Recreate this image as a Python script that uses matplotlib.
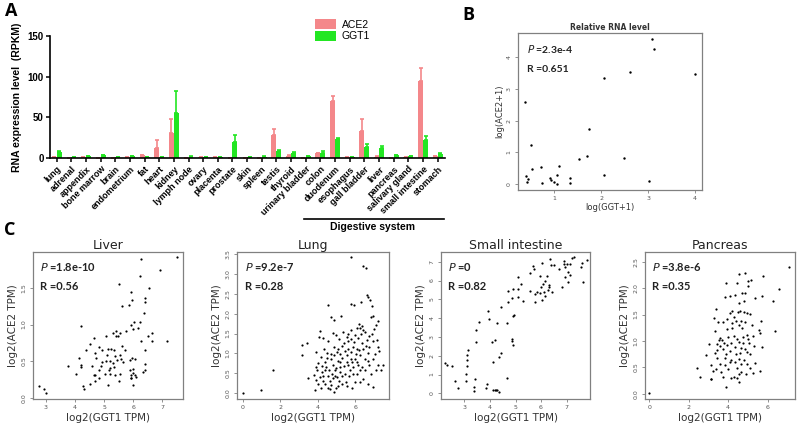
import numpy as np
import matplotlib
matplotlib.use('Agg')
import matplotlib.pyplot as plt
import matplotlib.transforms as mtrans

# ---- panel A data (RPKM) ----
tissues = ['lung', 'adrenal', 'appendix', 'bone marrow', 'brain', 'endometrium', 'fat',
           'heart', 'kidney', 'lymph node', 'ovary', 'placenta', 'prostate', 'skin',
           'spleen', 'testis', 'thyroid', 'urinary bladder', 'colon', 'duodenum',
           'esophagus', 'gall bladder', 'liver', 'pancreas', 'salivary gland',
           'small intestine', 'stomach']
ace2 = [1.2, 0.8, 1.5, 0.3, 0.3, 1.0, 4.0, 13, 31, 0.5, 1.2, 1.2, 0.5, 0.8, 0.5, 28, 3.0,
        0.8, 6.0, 70, 1.2, 34, 2.0, 0.8, 1.0, 94, 2.5]
ace2_err = [0, 0, 0, 0, 0, 0, 0.5, 10, 17, 0, 0, 0, 0, 0, 0, 8, 0.5, 0, 1, 6, 0, 14, 0.5,
            0, 0, 16, 0.5]
ggt1 = [8, 1, 2.5, 3.5, 1.5, 2.5, 1, 1, 55, 2, 1, 1.5, 20, 1, 2, 9, 6.5, 2.5, 7, 24, 1,
        14, 12, 4, 2.5, 22, 5]
ggt1_err = [1, 0, 0.5, 0.5, 0.3, 0.5, 0, 0, 27, 0.3, 0, 0, 8, 0, 0.3, 1.5, 1, 0.5, 1.5, 1,
            0, 4, 2.5, 0.5, 0.5, 5, 1]

# ---- panel B data ----
b_x = [3.09, 3.13, 2.61, 4.01, 2.07, 0.37, 1.73, 0.50, 1.53, 1.70, 2.48, 0.53, 0.72, 1.09,
       0.40, 0.43, 0.41, 0.73, 0.90, 0.92, 0.99, 1.06, 1.06, 1.33, 1.33, 2.07, 3.02]
b_y = [4.58, 4.27, 3.54, 3.48, 3.35, 2.60, 1.75, 1.22, 0.79, 0.87, 0.83, 0.46, 0.53, 0.56,
       0.26, 0.16, 0.07, 0.02, 0.18, 0.14, 0.06, 0.28, 0.00, 0.18, 0.04, 0.29, 0.09]

# ---- panel C data: liver ----
liver_x = [6.26, 6.93, 6.25, 5.51, 6.54, 5.93, 6.39, 5.97, 6.41, 5.63, 5.84, 6.36, 4.21, 5.91,
           6.03, 6.24, 6.00, 5.76, 6.18, 5.30, 5.40, 5.47, 5.41, 5.05, 5.55, 6.64, 6.51, 6.27,
           6.66, 7.17, 4.66, 4.52, 4.82, 4.38, 4.94, 5.14, 5.23, 5.34, 5.63, 5.73, 6.40, 4.69,
           5.53, 5.36, 5.11, 4.71, 4.13, 5.59, 5.46, 5.90, 6.05, 5.97, 5.06, 5.20, 4.93, 5.65,
           5.31, 6.41, 4.21, 4.20, 3.77, 4.59, 4.88, 5.21, 5.34, 4.82, 5.16, 5.88, 5.99, 6.39,
           6.00, 4.05, 4.64, 4.69, 5.04, 5.20, 5.36, 5.53, 5.92, 6.07, 6.11, 6.35, 4.83, 5.91,
           5.94, 4.69, 5.50, 4.52, 5.13, 6.01, 4.26, 4.31, 2.75, 2.94, 2.99, 7.52]
liver_y = [1.89, 1.74, 1.66, 1.55, 1.49, 1.44, 1.36, 1.33, 1.30, 1.25, 1.26, 1.15, 0.98, 1.00,
           1.03, 1.03, 0.94, 0.91, 0.95, 0.88, 0.91, 0.85, 0.84, 0.85, 0.89, 0.88, 0.84, 0.78,
           0.77, 0.78, 0.82, 0.73, 0.70, 0.66, 0.66, 0.67, 0.67, 0.66, 0.71, 0.65, 0.66, 0.61,
           0.59, 0.58, 0.59, 0.55, 0.55, 0.53, 0.52, 0.52, 0.53, 0.54, 0.51, 0.50, 0.49, 0.49,
           0.48, 0.47, 0.45, 0.43, 0.44, 0.44, 0.44, 0.41, 0.42, 0.39, 0.38, 0.39, 0.40, 0.39,
           0.34, 0.33, 0.32, 0.32, 0.33, 0.33, 0.32, 0.33, 0.32, 0.32, 0.29, 0.36, 0.27, 0.27,
           0.28, 0.23, 0.24, 0.19, 0.18, 0.18, 0.17, 0.12, 0.16, 0.13, 0.07, 1.91]

# ---- lung ----
lung_x = [0.00, 1.00, 1.63, 5.80, 6.43, 6.55, 4.54, 5.77, 5.93, 6.32, 6.61, 6.70, 6.79, 6.88,
          4.70, 4.86, 5.25, 3.14, 3.43, 3.14, 4.14, 4.07, 4.30, 4.57, 4.79, 4.96, 5.34, 5.63,
          5.80, 6.07, 6.18, 6.25, 6.38, 6.43, 6.86, 6.95, 7.21, 7.11, 7.00, 6.89, 6.75, 6.61,
          6.96, 7.14, 7.20, 7.27, 7.50, 7.20, 7.36, 7.11, 6.96, 6.84, 6.66, 6.43, 6.27, 6.14,
          5.98, 5.80, 5.63, 5.45, 5.30, 5.09, 4.89, 4.73, 4.48, 4.39, 4.25, 4.00, 3.89, 3.82,
          3.93, 3.88, 3.50, 4.21, 4.29, 4.41, 4.54, 4.73, 4.89, 5.00, 5.13, 5.32, 5.50, 5.68,
          5.82, 5.98, 6.09, 6.34, 6.54, 6.68, 4.61, 4.82, 5.00, 5.21, 5.39, 5.57, 5.75, 5.89,
          6.07, 6.25, 6.43, 5.89, 6.07, 5.54, 5.32, 5.09, 4.91, 4.75, 4.57, 4.38, 4.11, 4.02,
          4.16, 4.64, 5.18, 5.45, 5.71, 5.89, 5.09, 5.27, 4.43, 4.91, 5.04, 4.82, 5.21, 5.63,
          5.84, 6.02, 6.20, 6.36, 6.55, 6.75, 6.70, 6.93, 7.05, 6.52, 6.75, 6.25, 5.54, 4.64,
          4.29, 3.98, 4.50, 4.70, 5.04, 5.21, 5.39, 5.59, 5.77, 5.95, 6.16, 6.30, 6.52, 5.98,
          5.54, 5.14, 4.86, 4.32, 3.93, 4.20]
lung_y = [0.00, 0.08, 0.59, 3.42, 3.21, 3.15, 2.23, 2.25, 2.23, 2.30, 2.48, 2.42, 2.35, 2.20,
          1.91, 1.84, 1.95, 1.21, 1.27, 0.97, 1.56, 1.42, 1.40, 1.32, 1.51, 1.46, 1.54, 1.49,
          1.58, 1.65, 1.73, 1.63, 1.69, 1.59, 1.93, 1.95, 1.82, 1.72, 1.61, 1.50, 1.44, 1.33,
          1.31, 1.35, 1.16, 1.05, 0.72, 0.70, 0.59, 0.59, 0.16, 0.48, 0.23, 0.36, 0.57, 0.70,
          0.87, 1.04, 1.12, 1.07, 1.19, 1.12, 0.95, 0.87, 1.02, 0.78, 0.69, 0.76, 0.65, 0.45,
          0.32, 0.08, 0.38, 0.53, 0.31, 0.23, 0.14, 0.20, 0.02, 0.13, 0.31, 0.42, 0.29, 0.42,
          0.12, 0.27, 0.48, 0.65, 0.85, 1.02, 0.59, 0.71, 0.63, 0.78, 0.67, 0.78, 0.87, 0.65,
          0.78, 0.95, 1.12, 1.16, 1.12, 0.95, 0.88, 0.82, 0.57, 0.48, 0.42, 0.57, 0.40, 0.23,
          0.14, 0.31, 0.53, 0.48, 0.57, 0.48, 0.19, 0.23, 0.65, 0.44, 0.40, 0.37, 0.65, 0.71,
          0.78, 0.99, 1.08, 1.27, 1.19, 1.16, 0.82, 0.87, 0.99, 0.57, 0.70, 0.27, 0.19, 0.10,
          0.44, 0.57, 0.88, 0.99, 1.04, 0.99, 1.25, 1.31, 1.36, 1.29, 1.38, 1.48, 1.55, 1.46,
          1.42, 1.36, 1.16, 1.12, 1.04, 0.91]

# ---- small intestine ----
si_x = [2.25, 2.33, 2.50, 2.64, 2.74, 3.07, 3.07, 3.09, 3.11, 3.11, 3.12, 3.36, 3.38, 3.43,
        3.46, 3.47, 3.58, 3.87, 3.84, 3.92, 3.97, 4.09, 4.11, 4.12, 4.20, 4.25, 4.29, 4.34,
        4.21, 4.26, 4.34, 4.42, 4.45, 4.66, 4.67, 4.70, 4.72, 4.87, 4.86, 4.87, 4.91, 4.93,
        4.91, 4.91, 5.08, 5.08, 5.09, 5.20, 5.28, 5.57, 5.58, 5.67, 5.71, 5.75, 5.78, 5.86,
        5.95, 5.96, 6.01, 6.03, 6.05, 6.08, 6.14, 6.13, 6.17, 6.25, 6.28, 6.32, 6.33, 6.36,
        6.41, 6.42, 6.50, 6.72, 6.83, 6.92, 6.92, 6.93, 6.93, 7.03, 7.05, 7.05, 7.12, 7.13,
        7.22, 7.30, 7.57, 7.62, 7.63, 7.80]
si_y = [1.59, 1.50, 1.43, 0.66, 0.30, 0.68, 1.02, 1.45, 1.75, 2.04, 2.30, 0.34, 0.13, 0.75,
        2.75, 3.38, 3.79, 0.48, 0.27, 4.36, 3.93, 2.73, 1.68, 0.20, 0.20, 0.20, 0.16, 0.07,
        2.82, 3.75, 1.95, 2.14, 4.57, 3.73, 0.80, 4.86, 5.45, 5.07, 2.91, 2.80, 2.59, 4.16,
        4.13, 5.54, 5.55, 5.11, 6.18, 5.84, 4.89, 6.38, 5.45, 6.77, 6.63, 4.84, 5.27, 5.38,
        5.34, 6.23, 5.66, 4.95, 6.95, 5.82, 5.20, 5.39, 5.96, 6.25, 5.48, 5.66, 5.75, 7.13,
        6.82, 5.39, 6.82, 6.63, 5.64, 7.02, 6.88, 6.71, 6.20, 6.86, 6.45, 5.91, 6.86, 6.30,
        7.20, 7.27, 6.71, 6.95, 5.93, 7.10]

# ---- pancreas ----
panc_x = [0.00, 7.08, 6.59, 6.28, 6.35, 5.79, 5.71, 4.86, 4.53, 5.00, 5.15, 3.90, 4.43, 5.03,
          4.86, 4.68, 4.36, 4.07, 3.82, 5.35, 4.56, 4.80, 3.39, 4.19, 4.10, 4.48, 4.58, 4.80,
          4.97, 5.12, 4.29, 3.95, 3.29, 3.50, 3.75, 4.19, 4.41, 4.66, 4.85, 5.68, 4.21, 4.53,
          5.19, 4.68, 3.31, 3.95, 5.56, 5.61, 3.61, 3.53, 3.68, 3.97, 4.31, 4.43, 4.76, 4.93,
          5.03, 5.27, 3.02, 3.41, 3.80, 4.15, 4.53, 4.75, 5.07, 3.58, 3.95, 4.34, 4.66, 4.86,
          3.45, 3.75, 4.09, 5.71, 5.29, 2.87, 3.34, 3.90, 4.41, 4.59, 4.93, 5.10, 3.43, 3.86,
          4.16, 4.53, 4.80, 4.10, 4.36, 3.11, 3.58, 3.82, 4.63, 4.98, 5.35, 3.38, 3.22, 4.00,
          4.44, 5.10, 5.61, 2.40, 2.57, 3.14, 3.11, 3.63, 3.72, 4.14, 4.29, 4.43, 4.56, 4.65,
          4.88, 5.24, 3.89, 4.53]
panc_y = [0.01, 2.40, 1.98, 1.76, 1.19, 2.23, 1.86, 2.29, 2.26, 2.13, 2.15, 2.10, 2.10, 2.05,
          1.91, 1.90, 1.88, 1.85, 1.83, 1.81, 1.71, 1.75, 1.61, 1.56, 1.53, 1.54, 1.57, 1.54,
          1.53, 1.51, 1.46, 1.41, 1.44, 1.36, 1.35, 1.34, 1.37, 1.38, 1.35, 1.37, 1.25, 1.30,
          1.30, 1.24, 1.19, 1.22, 1.21, 1.15, 1.06, 1.01, 1.02, 1.07, 1.09, 1.04, 1.08, 1.12,
          1.03, 1.09, 0.95, 0.94, 0.96, 0.96, 0.98, 0.96, 0.96, 0.90, 0.92, 0.88, 0.87, 0.85,
          0.83, 0.85, 0.81, 0.88, 0.90, 0.74, 0.78, 0.76, 0.76, 0.78, 0.80, 0.75, 0.67, 0.67,
          0.63, 0.66, 0.63, 0.61, 0.61, 0.54, 0.57, 0.54, 0.56, 0.57, 0.58, 0.46, 0.44, 0.47,
          0.48, 0.49, 0.43, 0.48, 0.32, 0.28, 0.27, 0.42, 0.32, 0.29, 0.32, 0.30, 0.38, 0.42,
          0.37, 0.40, 0.13, 0.23]

ace2_col = '#f4878a'
ggt1_col = '#22e622'
W, H = 798, 428

fig = plt.figure(figsize=(W / 100, H / 100), dpi=100)


def box(l, t, r, b):
    return [l / W, 1 - b / H, (r - l) / W, (b - t) / H]


# ================= panel A =================
arial = 'Liberation Sans'
axA = fig.add_axes(box(50, 35.7, 445, 158.3))
idx = np.arange(len(tissues))
bw = 0.34
axA.bar(idx - bw / 2, ace2, bw, color=ace2_col, label='ACE2',
        yerr=[np.zeros(len(ace2)), ace2_err], error_kw=dict(ecolor=ace2_col, capsize=1.5, elinewidth=1.2, capthick=1.2))
axA.bar(idx + bw / 2, ggt1, bw, color=ggt1_col, label='GGT1',
        yerr=[np.zeros(len(ggt1)), ggt1_err], error_kw=dict(ecolor=ggt1_col, capsize=1.5, elinewidth=1.2, capthick=1.2))
axA.set_ylim(0, 150)
axA.set_xlim(-0.45, 26.5)
axA.set_yticks([0, 50, 100, 150])
axA.set_xticks(idx)
axA.set_xticklabels(tissues, rotation=45, ha='right', rotation_mode='anchor',
                    fontsize=6.5, fontweight='bold', family=arial)
for lab in axA.get_yticklabels():
    lab.set_fontsize(7)
    lab.set_fontweight('bold')
    lab.set_family(arial)
axA.spines['top'].set_visible(False)
axA.spines['right'].set_visible(False)
axA.spines['left'].set_linewidth(1.2)
axA.spines['bottom'].set_linewidth(1.2)
axA.tick_params(length=3, width=1.1, pad=1.5)
axA.set_ylabel('RNA expression level  (RPKM)', fontsize=7.5, fontweight='bold', family=arial, labelpad=4)
axA.legend(loc='upper left', bbox_to_anchor=(0.66, 1.17), frameon=False,
           handlelength=2.0, handleheight=1.1, labelspacing=0.1, borderaxespad=0, handletextpad=0.6,
           prop={'family': arial, 'size': 7.5})
# digestive system bracket
trA = mtrans.blended_transform_factory(axA.transData, fig.transFigure)
axA.plot([16.9, 26.45], [1 - 219 / H, 1 - 219 / H], transform=trA, color='black', lw=1.2, clip_on=False)
fig.text((302 + 442) / 2 / W, 1 - 227 / H, 'Digestive system', ha='center', va='center',
         fontsize=7.5, fontweight='bold', family=arial)

# panel letters
fig.text(5 / W, 1 - 11 / H, 'A', fontsize=13, fontweight='bold', family='Open Sans', va='center')
fig.text(462 / W, 1 - 15 / H, 'B', fontsize=13, fontweight='bold', family='Open Sans', va='center')
fig.text(4 / W, 1 - 230 / H, 'C', fontsize=13, fontweight='bold', family='Open Sans', va='center')


def r_style(ax, tick_fs=4.5):
    for s in ax.spines.values():
        s.set_color('#808080')
        s.set_linewidth(0.9)
    ax.tick_params(colors='#808080', labelcolor='#555555', labelsize=tick_fs, length=2.5, width=0.6, pad=2)
    for lab in ax.get_yticklabels():
        lab.set_rotation(90)
        lab.set_va('center')


def stats(ax, p, r, fs=8):
    ax.text(0.05, 0.9, r'$\it{P}$' + ' =' + p, transform=ax.transAxes, fontsize=fs, family='Lato',
            fontweight='bold', color='#222222', va='center')
    ax.text(0.05, 0.77, 'R =' + r, transform=ax.transAxes, fontsize=fs, family='Lato',
            fontweight='bold', color='#222222', va='center')


# ================= panel B =================
axB = fig.add_axes(box(518, 33, 702, 190))
axB.scatter(b_x, b_y, s=3, color='black', linewidths=0)
axB.set_xlim(0.225, 4.15)
axB.set_ylim(-0.19, 4.77)
axB.set_xticks([1, 2, 3, 4])
axB.set_yticks([0, 1, 2, 3, 4])
r_style(axB)
axB.set_title('Relative RNA level', fontsize=5.5, fontweight='bold', pad=2, color='#333333')
axB.set_xlabel('log(GGT+1)', fontsize=6, labelpad=1, color='#333333')
axB.set_ylabel('log(ACE2+1)', fontsize=6, labelpad=2, color='#333333')
stats(axB, '2.3e-4', '0.651', fs=7.5)

# ================= panel C =================
panels = [
    ('Liver', liver_x, liver_y, (33, 183), (2.56, 7.71), (-0.01, 1.98), [3, 4, 5, 6, 7],
     [0.0, 0.5, 1.0, 1.5], '1.8e-10', '0.56'),
    ('Lung', lung_x, lung_y, (237, 389), (-0.3, 7.8), (-0.15, 3.55), [0, 2, 4, 6],
     [0.0, 0.5, 1.0, 1.5, 2.0, 2.5, 3.0, 3.5], '9.2e-7', '0.28'),
    ('Small intestine', si_x, si_y, (441, 590), (2.08, 7.92), (-0.3, 7.5), [3, 4, 5, 6, 7],
     [0, 1, 2, 3, 4, 5, 6, 7], '0', '0.82'),
    ('Pancreas', panc_x, panc_y, (645, 795), (-0.22, 7.39), (-0.1, 2.68), [0, 2, 4, 6],
     [0.0, 0.5, 1.0, 1.5, 2.0, 2.5], '3.8e-6', '0.35'),
]
for name, xs, ys, (l, r), xl, yl, xt, yt, p, rr in panels:
    ax = fig.add_axes(box(l, 252.3, r, 399))
    ax.scatter(xs, ys, s=2.5, color='black', linewidths=0)
    ax.set_xlim(*xl)
    ax.set_ylim(*yl)
    ax.set_xticks(xt)
    ax.set_yticks(yt)
    ax.set_yticklabels([str(v) if isinstance(v, int) else '%.1f' % v for v in yt])
    r_style(ax)
    ax.set_title(name, fontsize=9, pad=2, color='#222222')
    ax.set_xlabel('log2(GGT1 TPM)', fontsize=7.5, labelpad=2, color='#333333')
    ax.set_ylabel('log2(ACE2 TPM)', fontsize=7.5, labelpad=3, color='#333333')
    stats(ax, p, rr)

fig.savefig('out.png', dpi=100)
